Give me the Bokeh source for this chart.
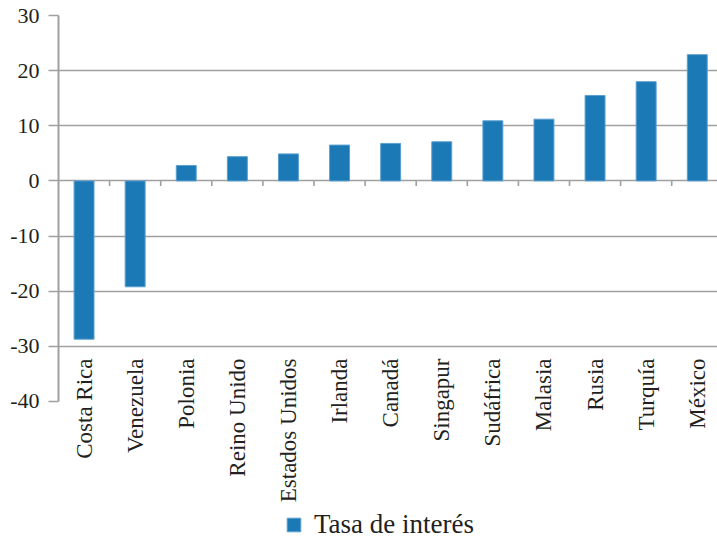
from math import pi
from bokeh.plotting import figure
from bokeh.models import Range1d, FixedTicker, ColumnDataSource, Legend, LegendItem
from bokeh.core.properties import value
from bokeh.embed import file_html
from bokeh.resources import INLINE

categories = ["Costa Rica", "Venezuela", "Polonia", "Reino Unido", "Estados Unidos",
              "Irlanda", "Canadá", "Singapur", "Sudáfrica", "Malasia", "Rusia",
              "Turquía", "México"]
tasa = [-28.7, -19.2, 2.8, 4.4, 4.9, 6.5, 6.8, 7.1, 10.9, 11.2, 15.5, 18.0, 22.9]
y_ticks = [-40, -30, -20, -10, 0, 10, 20, 30]
y_tick_labels = ["-40", "-30", "-20", "-10", "0", "10", "20", "30"]
series_name = "Tasa de interés"

FONT = "Liberation Serif"
GRAY = "#a0a0a0"
BLUE = "#1b79b6"

idx = list(range(len(categories)))
src = ColumnDataSource(dict(x=idx, top=tasa, cat=categories,
                            label_y=[-32.2] * len(categories)))

p = figure(width=717, height=540, output_backend="svg", toolbar_location=None,
           x_range=Range1d(-0.5, 12.396), y_range=Range1d(-65.21, 30),
           x_axis_location=None, min_border_left=58, min_border_right=0,
           min_border_top=15, min_border_bottom=0)
p.outline_line_color = None
p.background_fill_color = "white"
p.border_fill_color = "white"

# y axis
ya = p.yaxis[0]
ya.ticker = FixedTicker(ticks=y_ticks)
ya.major_label_overrides = {t: s for t, s in zip(y_ticks, y_tick_labels)}
ya.bounds = (-40, 30)
ya.axis_line_color = GRAY
ya.axis_line_width = 2
ya.major_tick_line_color = GRAY
ya.major_tick_line_width = 1.6
ya.major_tick_out = 10
ya.major_tick_in = 0
ya.minor_tick_line_color = None
ya.major_label_standoff = 9
ya.major_label_text_font = FONT
ya.major_label_text_font_size = "22px"
ya.major_label_text_color = "#231f20"

p.xgrid.visible = False
p.ygrid.ticker = FixedTicker(ticks=[t for t in y_ticks if t > -40])
p.ygrid.grid_line_color = GRAY
p.ygrid.grid_line_width = 1.6

# category ticks on the zero line
bx = [i + 0.5 for i in idx[:-1]]
p.segment(x0=bx, y0=[0] * len(bx), x1=bx, y1=[-0.9] * len(bx),
          line_color=GRAY, line_width=1.6)

bars = p.vbar(x="x", top="top", bottom=0, width=0.39, source=src,
              fill_color=BLUE, line_color="#5b9fcf", line_width=1)

p.text(x="x", y="label_y", text="cat", source=src, angle=pi / 2,
       text_align="right", text_baseline="middle",
       text_font=value(FONT), text_font_size="23px", text_color="#231f20")

legend = Legend(items=[LegendItem(label=series_name, renderers=[bars])],
                location=(227, 0), orientation="horizontal",
                label_text_font=FONT, label_text_font_size="27px",
                label_text_color="#231f20", glyph_width=17, glyph_height=17,
                label_standoff=12, padding=0, margin=0,
                border_line_color=None, background_fill_alpha=0)
p.add_layout(legend)

open("out.html", "w").write(file_html(p, INLINE))
